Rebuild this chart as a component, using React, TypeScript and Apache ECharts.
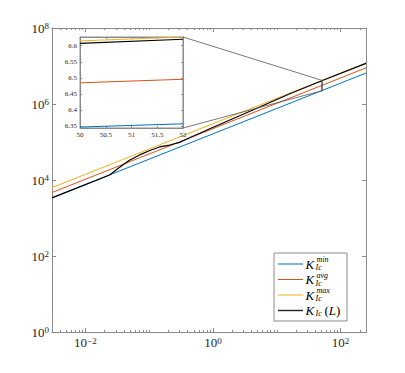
import React, { useEffect, useRef } from "react";
import * as echarts from "echarts";

// ---- data ----
const lineL = [0.003, 250];
const kMin = [3410, 6520000];
const kAvg = [4680, 8930000];
const kMax = [6310, 12050000];

const blackL = [0.003, 0.024, 0.034, 0.049, 0.071, 0.1, 0.145, 0.21, 0.3, 0.43, 0.62, 0.89, 5.4, 16, 50, 52, 250];
const blackK = [3388, 13490, 21380, 33110, 45710, 58880, 74130, 83180, 97720, 128800, 169800, 223900, 831800, 1862000, 4046000, 4169000, 11750000];

// inset (log10 of K)
const insetL = [50, 52];
const insetMin = [6.348, 6.358];
const insetAvg = [6.485, 6.496];
const insetMax = [6.615, 6.627];
const insetBlack = [6.607, 6.62];
const insetYRange = [6.345, 6.627];
const insetXRange = [50, 52];
const insetYTicks = [6.35, 6.4, 6.45, 6.5, 6.55, 6.6];

const mainXLabels = [0.01, 1, 100];
const mainYLabels = [1, 1e2, 1e4, 1e6, 1e8];

const C_MIN = "#0072BD";
const C_AVG = "#D95319";
const C_MAX = "#EDB120";
const C_L = "#000000";
const AX = "#8a8a8a";
const TXT = "#262626";
const SERIF = "Liberation Serif";

const minorX: number[] = [];
for (let e = -3; e <= 2; e++) {
  for (let m = 1; m <= 9; m++) {
    const v = +(m * Math.pow(10, e)).toPrecision(3);
    if (v >= 0.003 && v <= 250 && !mainXLabels.includes(v)) minorX.push(v);
  }
}

const pairs = (xs: number[], ys: number[]) => xs.map((x, i) => [x, ys[i]]);

const powRich = {
  b: { fontSize: 13, lineHeight: 13, fontFamily: SERIF, color: TXT, padding: [2, 0, 0, 0], verticalAlign: "bottom" },
  s: { fontSize: 9, lineHeight: 9, fontFamily: SERIF, color: TXT, verticalAlign: "top" },
};
const powFmt = (v: number) => {
  const e = Math.round(Math.log10(v));
  return `{b|10}{s|${e < 0 ? "\u2212" + -e : e}}`;
};

export default function App() {
  const ref = useRef<HTMLDivElement>(null);
  useEffect(() => {
    if (!ref.current) return;
    const chart = echarts.init(ref.current, null, { renderer: "svg" });
    const axLine = { show: true, lineStyle: { color: AX, width: 1 } };
    const mainX = (pos: string, major: boolean, labels: boolean) => ({
      type: "log",
      gridIndex: 0,
      position: pos,
      min: 0.003,
      max: 250,
      axisLine: axLine,
      splitLine: { show: false },
      axisTick: { show: true, inside: true, length: major ? 4 : 2, customValues: major ? mainXLabels : minorX, lineStyle: { color: AX } },
      axisLabel: labels
        ? { show: true, color: TXT, fontFamily: SERIF, customValues: mainXLabels, formatter: powFmt, rich: powRich, margin: 4 }
        : { show: false },
    });
    const mainY = (pos: string, labels: boolean) => ({
      type: "log",
      gridIndex: 0,
      position: pos,
      min: 1,
      max: 1e8,
      axisLine: axLine,
      splitLine: { show: false },
      axisTick: { show: true, inside: true, length: 4, customValues: mainYLabels, lineStyle: { color: AX } },
      axisLabel: labels
        ? { show: true, color: TXT, fontFamily: SERIF, customValues: mainYLabels, formatter: powFmt, rich: powRich, margin: 3 }
        : { show: false },
    });
    const insetLabel = { fontSize: 7, fontFamily: SERIF, color: TXT };
    const option: any = {
      animation: false,
      textStyle: { fontFamily: SERIF },
      grid: [
        { left: 52, top: 28, width: 314, height: 304 },
        { left: 80, top: 37, width: 103, height: 91, show: true, backgroundColor: "#fff", borderColor: AX, borderWidth: 1, z: 5 },
      ],
      xAxis: [
        mainX("bottom", true, true),
        mainX("bottom", false, false),
        mainX("top", true, false),
        mainX("top", false, false),
        {
          type: "value", gridIndex: 1, position: "bottom", min: insetXRange[0], max: insetXRange[1], interval: 0.5, z: 6,
          axisLine: axLine, splitLine: { show: false },
          axisTick: { inside: true, length: 2, lineStyle: { color: AX } },
          axisLabel: { ...insetLabel, margin: 3, formatter: (v: number) => String(v) },
        },
        {
          type: "value", gridIndex: 1, position: "top", min: insetXRange[0], max: insetXRange[1], interval: 0.5, z: 6,
          axisLine: axLine, splitLine: { show: false },
          axisTick: { inside: true, length: 2, lineStyle: { color: AX } },
          axisLabel: { show: false },
        },
      ],
      yAxis: [
        mainY("left", true),
        mainY("right", false),
        {
          type: "value", gridIndex: 1, position: "left", min: insetYRange[0], max: insetYRange[1], z: 6,
          axisLine: axLine, splitLine: { show: false },
          axisTick: { inside: true, length: 2, customValues: insetYTicks, lineStyle: { color: AX } },
          axisLabel: { ...insetLabel, margin: 3, customValues: insetYTicks, formatter: (v: number) => String(+v.toFixed(2)) },
        },
        {
          type: "value", gridIndex: 1, position: "right", min: insetYRange[0], max: insetYRange[1], z: 6,
          axisLine: axLine, splitLine: { show: false },
          axisTick: { inside: true, length: 2, customValues: insetYTicks, lineStyle: { color: AX } },
          axisLabel: { show: false },
        },
      ],
      series: [
        { type: "line", name: "min", xAxisIndex: 0, yAxisIndex: 0, data: pairs(lineL, kMin), symbol: "none", lineStyle: { color: C_MIN, width: 1 } },
        { type: "line", name: "avg", xAxisIndex: 0, yAxisIndex: 0, data: pairs(lineL, kAvg), symbol: "none", lineStyle: { color: C_AVG, width: 1 } },
        { type: "line", name: "max", xAxisIndex: 0, yAxisIndex: 0, data: pairs(lineL, kMax), symbol: "none", lineStyle: { color: C_MAX, width: 1 } },
        { type: "line", name: "L", xAxisIndex: 0, yAxisIndex: 0, data: pairs(blackL, blackK), symbol: "none", lineStyle: { color: C_L, width: 1.2 } },
        {
          type: "line", name: "rect", xAxisIndex: 0, yAxisIndex: 0, symbol: "none", silent: true,
          lineStyle: { color: "#555", width: 0.8 },
          data: [
            [insetXRange[0], Math.pow(10, insetYRange[0])],
            [insetXRange[1], Math.pow(10, insetYRange[0])],
            [insetXRange[1], Math.pow(10, insetYRange[1])],
            [insetXRange[0], Math.pow(10, insetYRange[1])],
            [insetXRange[0], Math.pow(10, insetYRange[0])],
          ],
        },
        { type: "line", xAxisIndex: 4, yAxisIndex: 2, z: 7, data: pairs(insetL, insetMin), symbol: "none", lineStyle: { color: C_MIN, width: 1 } },
        { type: "line", xAxisIndex: 4, yAxisIndex: 2, z: 7, data: pairs(insetL, insetAvg), symbol: "none", lineStyle: { color: C_AVG, width: 1 } },
        { type: "line", xAxisIndex: 4, yAxisIndex: 2, z: 7, data: pairs(insetL, insetMax), symbol: "none", lineStyle: { color: C_MAX, width: 1 } },
        { type: "line", xAxisIndex: 4, yAxisIndex: 2, z: 7, data: pairs(insetL, insetBlack), symbol: "none", lineStyle: { color: C_L, width: 1.2 } },
      ],
    };
    chart.setOption(option);

    // connector lines between inset and zoom rectangle
    const rTop = chart.convertToPixel({ xAxisIndex: 0, yAxisIndex: 0 } as any, [insetXRange[0], Math.pow(10, insetYRange[1])]) as number[];
    const rBot = chart.convertToPixel({ xAxisIndex: 0, yAxisIndex: 0 } as any, [insetXRange[0], Math.pow(10, insetYRange[0])]) as number[];
    const iTop = chart.convertToPixel({ xAxisIndex: 4, yAxisIndex: 2 } as any, [insetXRange[1], insetYRange[1]]) as number[];
    const iBot = chart.convertToPixel({ xAxisIndex: 4, yAxisIndex: 2 } as any, [insetXRange[1], insetYRange[0]]) as number[];

    const legendItems = [
      { color: C_MIN, sup: "min", y: 264 },
      { color: C_AVG, sup: "avg", y: 279.5 },
      { color: C_MAX, sup: "max", y: 295 },
    ];
    const lx0 = 278, lx1 = 303, kx = 305.5;
    const kFont = { fontSize: 13, fontStyle: "italic", fontFamily: SERIF, lineHeight: 12 };
    const sFont = { fontSize: 8, fontStyle: "italic", fontFamily: SERIF, lineHeight: 7 };
    const legendEls: any[] = [
      { type: "rect", shape: { x: 274, y: 253, width: 73, height: 68 }, style: { fill: "#fff", stroke: AX, lineWidth: 1 } },
    ];
    legendItems.forEach((it) => {
      legendEls.push({ type: "line", shape: { x1: lx0, y1: it.y, x2: lx1, y2: it.y }, style: { stroke: it.color, lineWidth: 1 } });
      legendEls.push({ type: "text", x: kx, y: it.y, style: { text: "K", ...kFont, fill: "#000", verticalAlign: "middle" } });
      legendEls.push({ type: "text", x: kx + 11, y: it.y - 4.5, style: { text: it.sup, ...sFont, fill: "#000", verticalAlign: "middle" } });
      legendEls.push({ type: "text", x: kx + 10, y: it.y + 3.5, style: { text: "Ic", ...sFont, fill: "#000", verticalAlign: "middle" } });
    });
    const y4 = 310.5;
    legendEls.push({ type: "line", shape: { x1: lx0, y1: y4, x2: lx1, y2: y4 }, style: { stroke: "#222", lineWidth: 1.4 } });
    legendEls.push({ type: "text", x: kx, y: y4, style: { text: "K", ...kFont, fill: "#000", verticalAlign: "middle" } });
    legendEls.push({ type: "text", x: kx + 10, y: y4 + 3, style: { text: "Ic", ...sFont, fill: "#000", verticalAlign: "middle" } });
    legendEls.push({
      type: "text", x: kx + 19, y: y4,
      style: {
        text: "{a|(}{b|L}{a|)}", verticalAlign: "middle",
        rich: {
          a: { fontSize: 13, lineHeight: 12, fontFamily: SERIF, fill: "#000" },
          b: { fontSize: 13, lineHeight: 12, fontFamily: SERIF, fontStyle: "italic", fill: "#000" },
        },
      },
    });

    chart.setOption({
      graphic: [
        { type: "line", z: 10, shape: { x1: iTop[0], y1: iTop[1], x2: rTop[0], y2: rTop[1] }, style: { stroke: "#555", lineWidth: 0.8 } },
        { type: "line", z: 10, shape: { x1: iBot[0], y1: iBot[1], x2: rBot[0], y2: rBot[1] }, style: { stroke: "#555", lineWidth: 0.8 } },
        { type: "group", z: 20, children: legendEls },
      ],
    });
    return () => chart.dispose();
  }, []);
  return <div ref={ref} style={{ position: "fixed", left: 0, top: 0, width: 405, height: 373, background: "#fff" }} />;
}
